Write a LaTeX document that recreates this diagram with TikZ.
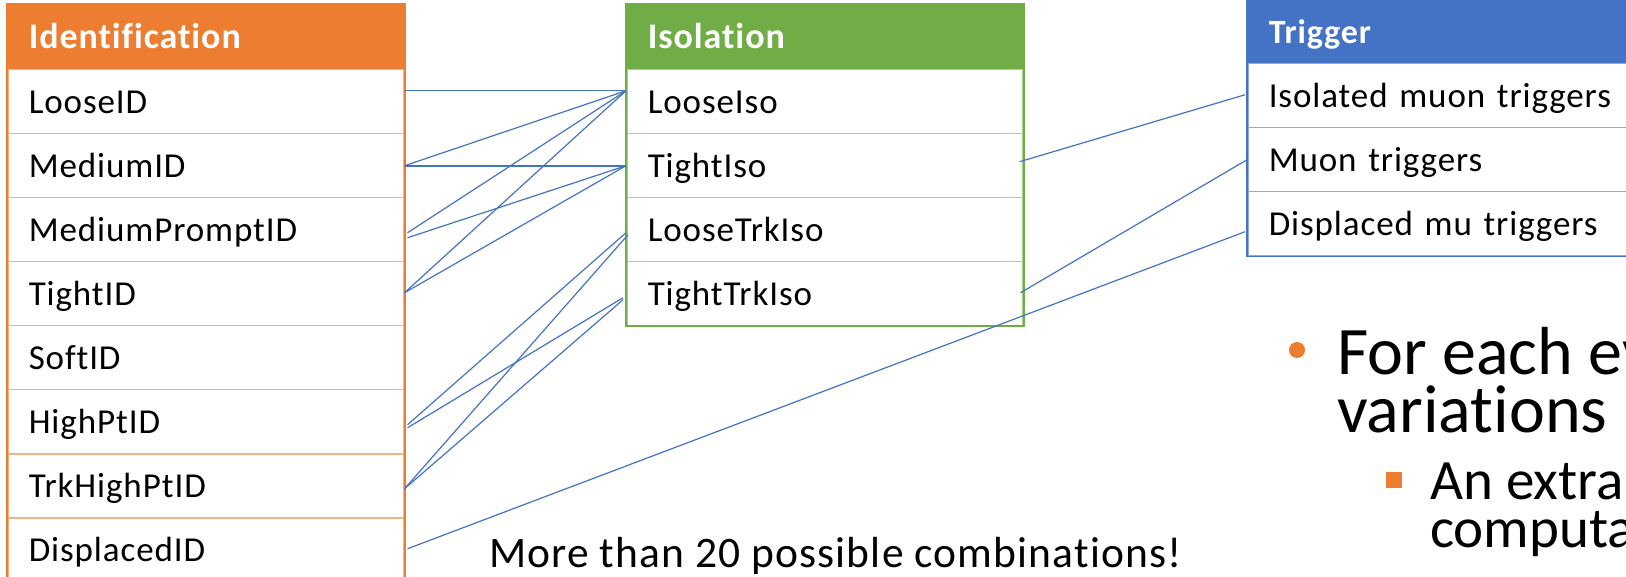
\documentclass[tikz,border=0pt]{standalone}
\usepackage{fontspec}
\setmainfont{Carlito}[LetterSpace=2.6, Ligatures={NoCommon,NoRare}]
\newfontfamily\plainfont{Carlito}[Ligatures={NoCommon,NoRare}]
\definecolor{orH}{HTML}{ED7D31}
\definecolor{orL}{HTML}{F4B183}
\definecolor{grH}{HTML}{70AD47}
\definecolor{grL}{HTML}{A9D18E}
\definecolor{blH}{HTML}{4472C4}
\definecolor{blL}{HTML}{8FAADC}
\definecolor{lnk}{HTML}{4472C4}
\begin{document}
\begin{tikzpicture}[x=1pt,y=-1pt,
  cell/.style={rectangle, anchor=north west, minimum height=64pt, inner xsep=21pt, inner ysep=0pt,
    text height=24pt, text depth=0pt, align=left, font=\fontsize{35}{40}\selectfont, line width=1.5pt, fill=white},
  head/.style={rectangle, anchor=north west, inner xsep=21pt, inner ysep=0pt,
    text height=23pt, text depth=0pt, align=left, text=white, line width=1.5pt},
  idcell/.style={cell, draw=orL, text width=354pt},
  isocell/.style={cell, draw=grL, text width=354pt},
  trcell/.style={cell, draw=blL, text width=378pt},
  link/.style={draw=lnk, line width=1.2pt},
  frame/.style={line width=2pt},
  big/.style={anchor=base west, inner sep=0pt, font=\plainfont\fontsize{68}{70}\selectfont},
  mid/.style={anchor=base west, inner sep=0pt, font=\plainfont\fontsize{57}{60}\selectfont}
]
\useasboundingbox (0,0) rectangle (1626,577);
\fill[white] (0,0) rectangle (1626,577);

% Identification table
\node[head, fill=orH, draw=orH, minimum height=65pt, text width=354pt, font=\bfseries\fontsize{36}{40}\selectfont] (idh) at (7,4) {Identification};
\node[idcell] (id1) at (7,69) {LooseID};
\node[idcell] (id2) at (7,133) {MediumID};
\node[idcell] (id3) at (7,197) {MediumPromptID};
\node[idcell] (id4) at (7,261) {TightID};
\node[idcell] (id5) at (7,325) {SoftID};
\node[idcell] (id6) at (7,389) {HighPtID};
\node[idcell] (id7) at (7,453) {TrkHighPtID};
\node[idcell] (id8) at (7,517) {DisplacedID};
\draw[frame, orH] (idh.north west) rectangle (id8.south east);

% Isolation table
\node[head, fill=grH, draw=grH, minimum height=65pt, text width=354pt, font=\bfseries\fontsize{36}{40}\selectfont] (isoh) at (626,4) {Isolation};
\node[isocell] (iso1) at (626,69) {LooseIso};
\node[isocell] (iso2) at (626,133) {TightIso};
\node[isocell] (iso3) at (626,197) {LooseTrkIso};
\node[isocell] (iso4) at (626,261) {TightTrkIso};
\draw[frame, grH] (isoh.north west) rectangle (iso4.south east);

% Trigger table
\node[head, fill=blH, draw=blH, minimum height=63pt, text width=378pt, font=\bfseries\fontsize{34}{40}\selectfont] (trh) at (1247,0) {Trigger};
\node[trcell] (tr1) at (1247,63) {Isolated muon triggers};
\node[trcell] (tr2) at (1247,127) {Muon triggers};
\node[trcell] (tr3) at (1247,191) {Displaced mu triggers};
\draw[line width=1.5pt, blH] (trh.north west) rectangle (tr3.south east);

% Identification -> Isolation
\draw[link] ([yshift=11pt]id1.east) -- ([yshift=11pt]iso1.west);
\draw[link, line width=2pt] (id2.east) -- (iso2.west);
\draw[link] (id2.east) -- ([yshift=11pt]iso1.west);
\draw[link] ([xshift=3pt,yshift=-3pt]id3.east) -- ([yshift=11pt]iso1.west);
\draw[link] ([xshift=3pt,yshift=-8pt]id3.east) -- (iso2.west);
\draw[link] ([yshift=1pt]id4.east) -- ([yshift=11pt]iso1.west);
\draw[link] ([yshift=1pt]id4.east) -- (iso2.west);
\draw[link] ([xshift=3pt,yshift=-3pt]id6.east) -- ([yshift=-3pt]iso3.west);
\draw[link] ([xshift=3pt,yshift=-6pt]id6.east) -- ([xshift=-3pt,yshift=-4pt]iso4.west);
\draw[link] ([yshift=-3pt]id7.east) -- ([xshift=2pt,yshift=-5pt]iso3.west);
\draw[link] ([yshift=-3pt]id7.east) -- ([xshift=-3pt,yshift=-6pt]iso4.west);

% -> Trigger
\draw[link] ([xshift=3pt,yshift=1pt]id8.east) -- ([xshift=-2pt,yshift=-8pt]tr3.west);
\draw[link] ([xshift=-4pt,yshift=4pt]iso2.east) -- ([xshift=-2pt,yshift=1pt]tr1.west);
\draw[link] ([xshift=-3pt,yshift=1pt]iso4.east) -- (tr2.west);

% Texts
\node[anchor=base west, inner sep=0pt, font=\fontsize{43.5}{48}\selectfont] (combo) at (489,567) {More than 20 possible combinations!};
\node[circle, fill=orH, inner sep=0pt, minimum size=16pt] (b1) at (1297,350) {};
\node[big] (t1) at (1337,375) {For each ev};
\node[big] (t2) at (1337,432) {variations};
\node[rectangle, fill=orH, inner sep=0pt, minimum size=16pt] (b2) at (1393.5,479.5) {};
\node[mid] (t3) at (1430,499) {An extra};
\node[mid] (t4) at (1430,547) {computa};
\end{tikzpicture}
\end{document}
